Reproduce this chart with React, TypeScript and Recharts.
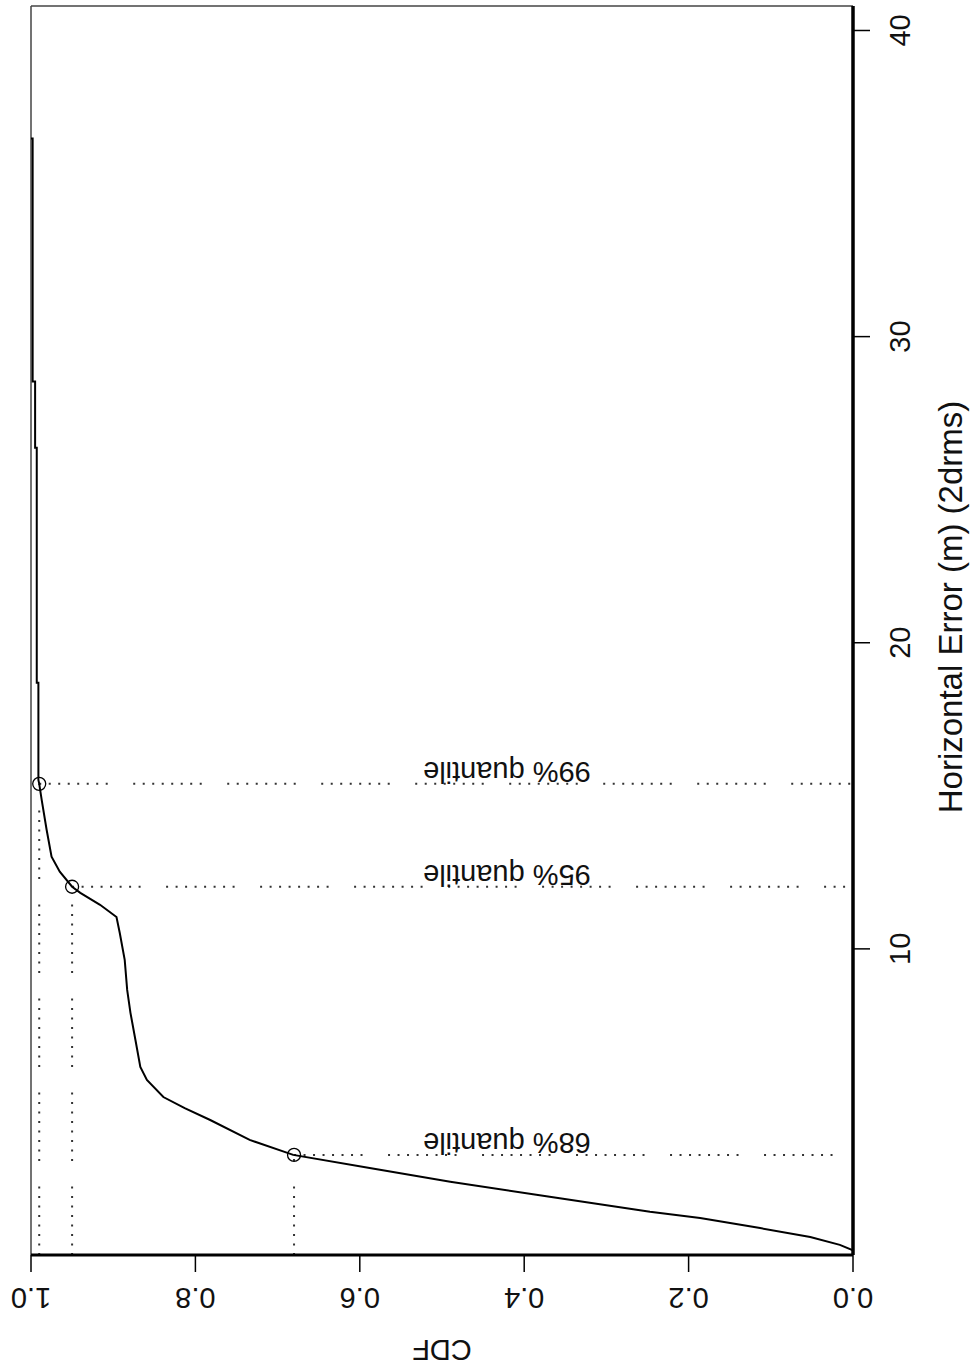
import React from 'react';
import { LineChart, Line, XAxis, YAxis, ReferenceLine, ReferenceDot } from 'recharts';

const errValues = [
  0.15, 0.33, 0.59, 0.88, 1.21, 1.41, 1.9, 2.39, 2.84, 3.27, 3.76, 4.41, 4.8, 5.16,
  5.72, 6.14, 7.03, 7.91, 8.66, 9.64, 10.52, 11.04, 11.44, 11.83, 12.03, 12.52, 13.01,
  13.89, 14.87, 15.39, 15.52, 18.69, 18.69, 26.37, 26.37, 28.53, 28.53, 36.47, 36.47,
];
const cdfValues = [
  0.0, 0.016, 0.052, 0.113, 0.186, 0.247, 0.369, 0.49, 0.588, 0.681, 0.734, 0.782, 0.813, 0.839,
  0.859, 0.867, 0.873, 0.879, 0.883, 0.886, 0.892, 0.896, 0.916, 0.94, 0.95, 0.965, 0.975,
  0.981, 0.987, 0.99, 0.991, 0.991, 0.993, 0.993, 0.995, 0.995, 0.998, 0.998, 1.0,
];

const quantileLevels = [0.68, 0.95, 0.99];
const quantileErrors = [3.27, 12.03, 15.39];
const quantileLabels = ['68% quantile', '95% quantile', '99% quantile'];
const quantileLabelCdf = 0.421;

const errTicks = [10, 20, 30, 40];
const cdfTicks = [0, 0.2, 0.4, 0.6, 0.8, 1.0];
const errDomain = [0, 40.8];
const cdfDomain = [0, 1];

const xTitle = 'Horizontal Error (m) (2drms)';
const yTitle = 'CDF';

const data = errValues.map((e, i) => ({ err: e, cdf: cdfValues[i] }));

const FONT = '"Liberation Sans", Arial, Helvetica, sans-serif';
const DOTS = '2 7.5 2 7.5 2 7.5 2 7.5 2 7.5 2 7.5 2 7.5 2 25.5';

const CdfTick = (props: any) => {
  const { x, y, payload } = props;
  return (
    <g transform={`translate(${x},${y + 24}) rotate(180)`}>
      <text textAnchor="middle" dominantBaseline="central" fontFamily={FONT} fontSize={29} fill="#111">
        {Number(payload.value).toFixed(1)}
      </text>
    </g>
  );
};

const ErrTick = (props: any) => {
  const { x, y, payload } = props;
  return (
    <g transform={`translate(${x + 28},${y}) rotate(-90)`}>
      <text textAnchor="middle" dominantBaseline="central" fontFamily={FONT} fontSize={29} fill="#111">
        {payload.value}
      </text>
    </g>
  );
};

const CdfTitle = (props: any) => {
  const vb = props.viewBox || { x: 31, y: 1255, width: 822, height: 60 };
  const cx = vb.x + vb.width / 2;
  const cy = vb.y + 95;
  return (
    <g transform={`translate(${cx},${cy}) rotate(180)`}>
      <text textAnchor="middle" dominantBaseline="central" fontFamily={FONT} fontSize={29} fill="#111">
        {yTitle}
      </text>
    </g>
  );
};

const ErrTitle = (props: any) => {
  const vb = props.viewBox || { x: 853, y: 6, width: 90, height: 1249 };
  const cx = vb.x + 97;
  const cy = 607;
  return (
    <g transform={`translate(${cx},${cy}) rotate(-90)`}>
      <text textAnchor="middle" dominantBaseline="central" fontFamily={FONT} fontSize={33} fill="#111">
        {xTitle}
      </text>
    </g>
  );
};

const makeLabelShape = (text: string) => (p: any) => (
  <g transform={`translate(${p.cx},${p.cy - 12}) rotate(180)`}>
    <text textAnchor="middle" dominantBaseline="central" fontFamily={FONT} fontSize={29} fill="#111">
      {text}
    </text>
  </g>
);

export default function App() {
  return (
    <div style={{ position: 'absolute', left: 0, top: 0, width: 975, height: 1372, background: '#fff' }}>
      <LineChart
        width={975}
        height={1372}
        layout="vertical"
        data={data}
        margin={{ top: 6, left: 31, right: 32, bottom: 57 }}
      >
        <XAxis
          type="number"
          dataKey="cdf"
          domain={cdfDomain}
          ticks={cdfTicks}
          reversed
          allowDataOverflow
          height={60}
          tickSize={17}
          axisLine={{ stroke: '#000', strokeWidth: 3 }}
          tickLine={{ stroke: '#000', strokeWidth: 1.5 }}
          tick={<CdfTick />}
          interval={0}
          label={<CdfTitle />}
        />
        <YAxis
          type="number"
          dataKey="err"
          orientation="right"
          domain={errDomain}
          ticks={errTicks}
          reversed
          allowDataOverflow
          width={90}
          tickSize={17}
          axisLine={{ stroke: '#000', strokeWidth: 3.5 }}
          tickLine={{ stroke: '#000', strokeWidth: 1.5 }}
          tick={<ErrTick />}
          interval={0}
          label={<ErrTitle />}
        />
        <ReferenceLine y={errDomain[1]} stroke="#444" strokeWidth={1.5} ifOverflow="visible" />
        <ReferenceLine x={cdfDomain[1]} stroke="#444" strokeWidth={1.5} ifOverflow="visible" />
        {quantileLevels.map((lv, i) => (
          <ReferenceLine
            key={`v${i}`}
            segment={[{ x: lv, y: errDomain[0] }, { x: lv, y: quantileErrors[i] }]}
            stroke="#333"
            strokeWidth={2}
            strokeDasharray={DOTS}
            ifOverflow="visible"
          />
        ))}
        {quantileLevels.map((lv, i) => (
          <ReferenceLine
            key={`h${i}`}
            segment={[{ x: lv, y: quantileErrors[i] }, { x: cdfDomain[0], y: quantileErrors[i] }]}
            stroke="#333"
            strokeWidth={2}
            strokeDasharray={DOTS}
            ifOverflow="visible"
          />
        ))}
        <Line
          dataKey="cdf"
          type="linear"
          stroke="#000"
          strokeWidth={2}
          dot={false}
          activeDot={false}
          isAnimationActive={false}
        />
        {quantileLevels.map((lv, i) => (
          <ReferenceDot
            key={`c${i}`}
            x={lv}
            y={quantileErrors[i]}
            r={6.5}
            fill="none"
            stroke="#000"
            strokeWidth={1.3}
            ifOverflow="visible"
          />
        ))}
        {quantileLabels.map((t, i) => (
          <ReferenceDot
            key={`t${i}`}
            x={quantileLabelCdf}
            y={quantileErrors[i]}
            r={1}
            ifOverflow="visible"
            shape={makeLabelShape(t)}
          />
        ))}
      </LineChart>
    </div>
  );
}
